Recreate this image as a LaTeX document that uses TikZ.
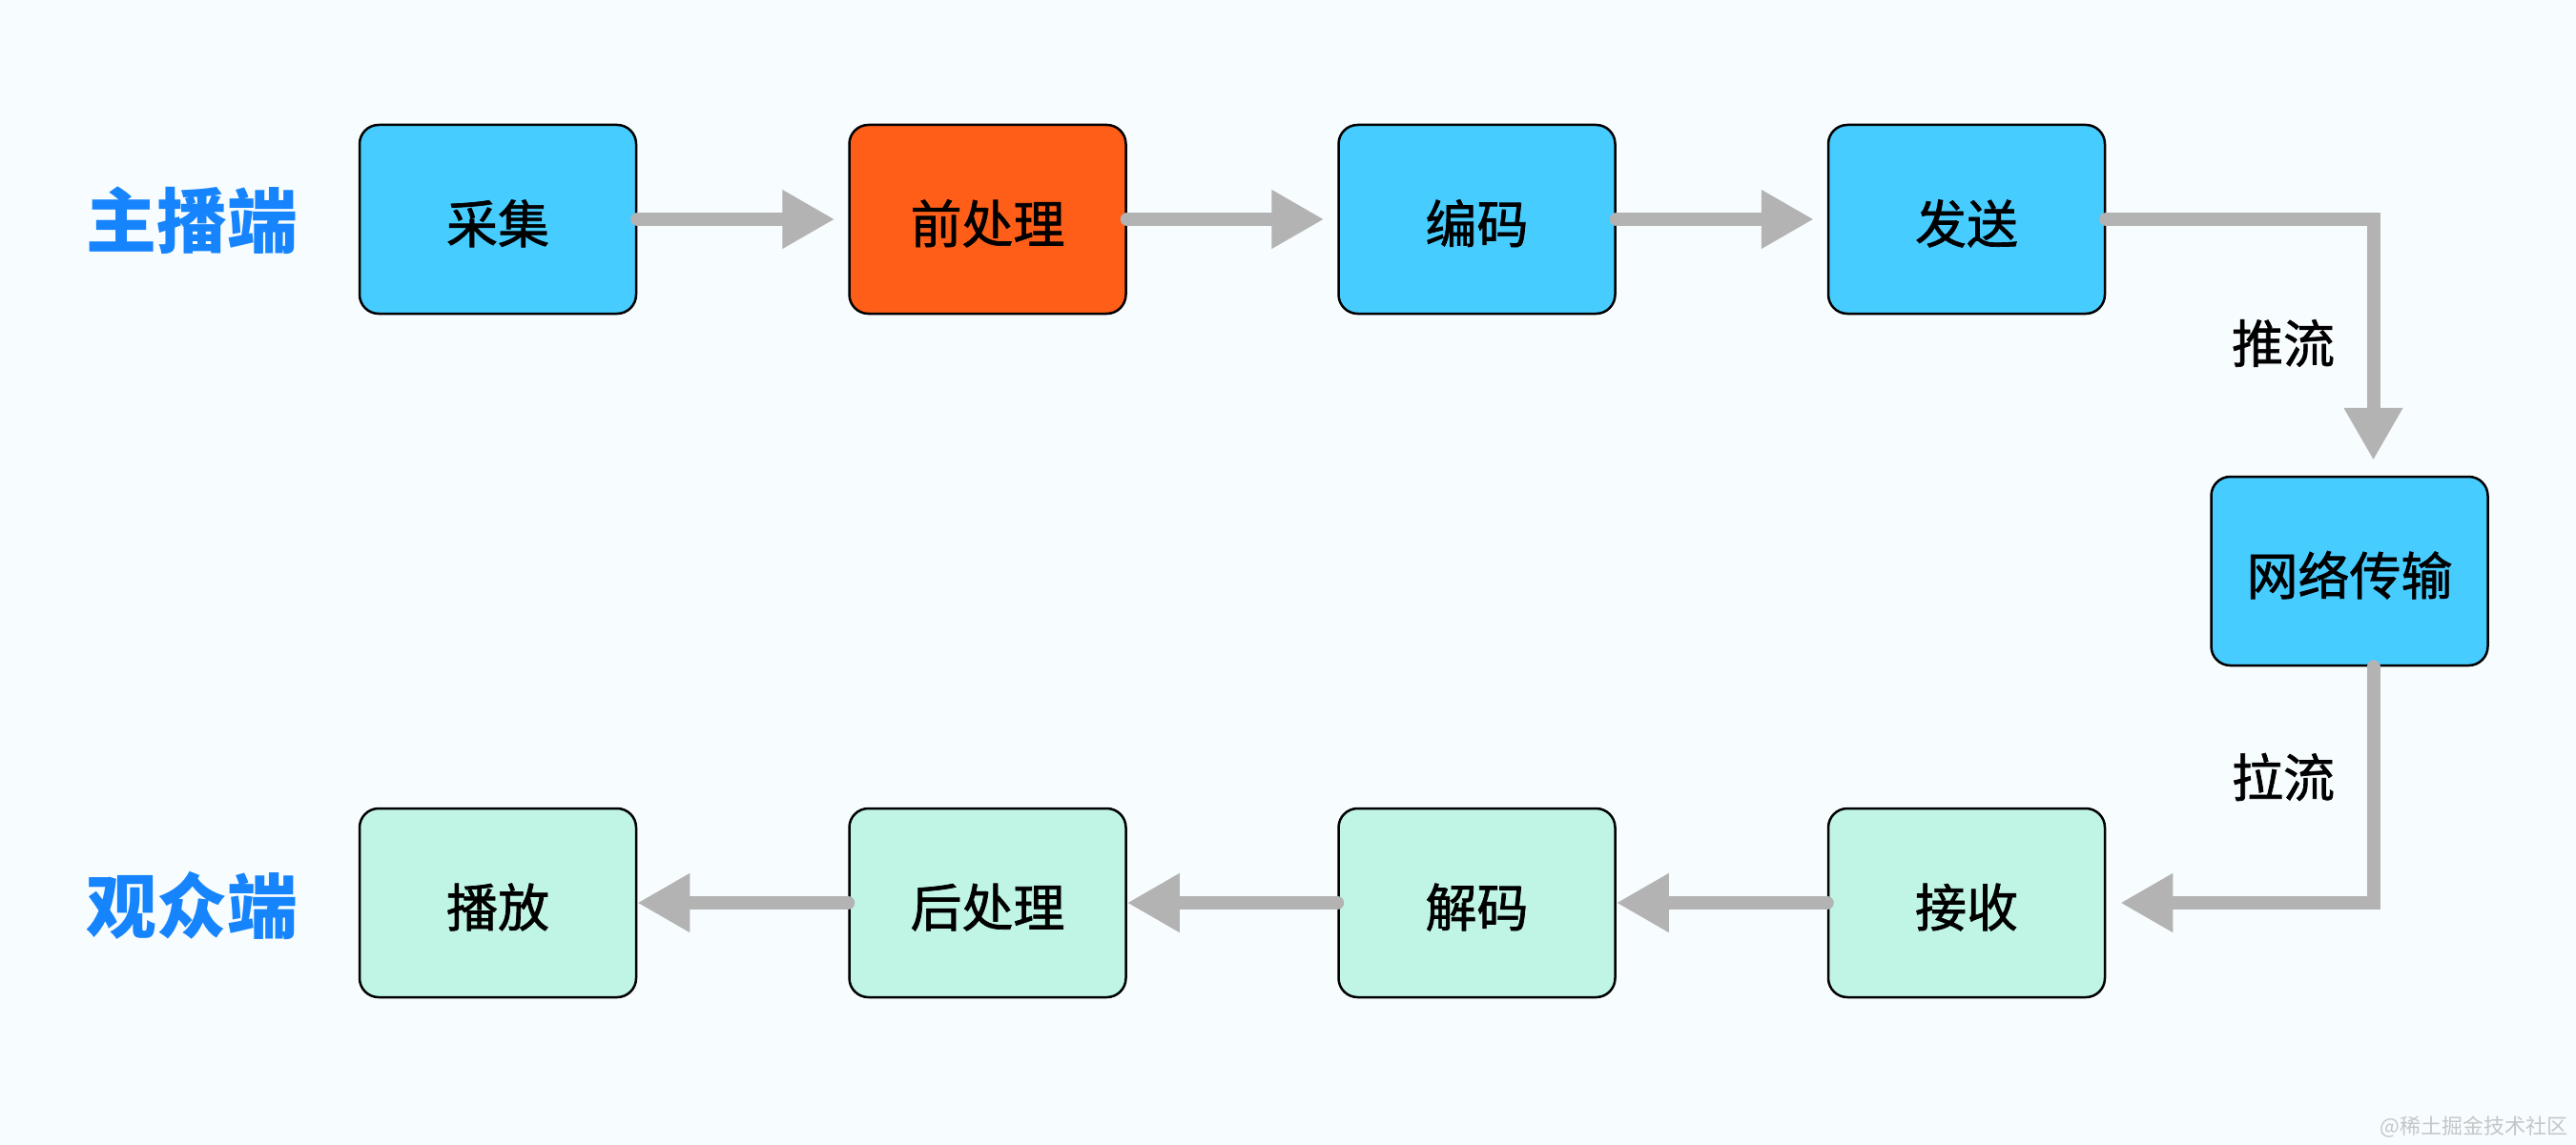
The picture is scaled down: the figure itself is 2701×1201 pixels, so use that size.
\documentclass[tikz,border=0pt]{standalone}
\usepackage{fontspec}
\setmainfont{Noto Sans CJK SC}
\newfontfamily\boxfont[FakeBold=1.3]{Noto Sans CJK SC}
\usetikzlibrary{arrows.meta}
\definecolor{bgc}{HTML}{F7FCFE}
\definecolor{cyanbox}{HTML}{47CCFF}
\definecolor{orangebox}{HTML}{FE5E18}
\definecolor{mintbox}{HTML}{C0F5E6}
\definecolor{labelblue}{HTML}{1684FC}
\definecolor{arrowgray}{HTML}{B3B3B3}
\definecolor{wmgray}{HTML}{C4C6C8}
\begin{document}
\begin{tikzpicture}[x=1pt,y=-1pt,
  box/.style={draw=black, line width=2.5pt, rounded corners=20pt,
    minimum width=290pt, minimum height=198pt, inner sep=0pt,
    text height=50pt, text depth=0pt,
    font=\boxfont\fontsize{54}{60}\selectfont},
  topbox/.style={box, fill=cyanbox},
  hotbox/.style={box, fill=orangebox},
  botbox/.style={box, fill=mintbox},
  flow/.style={draw=arrowgray, line width=14pt, line cap=round,
    -{Triangle[length=55pt,width=58pt]}},
  sidelabel/.style={text=labelblue, font=\bfseries\fontsize{74}{80}\selectfont},
  flowlabel/.style={text=black, font=\boxfont\fontsize{54}{60}\selectfont}]
\fill[bgc] (0,0) rectangle (2701,1201);
\useasboundingbox (0,0) rectangle (2701,1201);

\node[sidelabel] (zb) at (201,231) {主播端};
\node[sidelabel] (gz) at (201,950) {观众端};

\node[topbox] (cj) at (522,230) {采集};
\node[hotbox] (qcl) at (1035.5,230) {前处理};
\node[topbox] (bm) at (1548.5,230) {编码};
\node[topbox] (fs) at (2062,230) {发送};
\node[topbox] (wl) at (2463.5,599) {网络传输};

\node[botbox] (bf) at (522,947) {播放};
\node[botbox] (hcl) at (1035.5,947) {后处理};
\node[botbox] (jm) at (1548.5,947) {解码};
\node[botbox] (js) at (2062,947) {接收};

\node[flowlabel] (tl) at (2394,360) {推流};
\node[flowlabel] (ll) at (2394,815) {拉流};

\draw[flow, shorten >=14pt] (cj.east) -- (qcl.west);
\draw[flow, shorten >=14pt] (qcl.east) -- (bm.west);
\draw[flow, shorten >=14pt] (bm.east) -- (fs.west);
\draw[flow, shorten >=16pt] (fs.east) -| ([xshift=25pt]wl.north);
\draw[flow, shorten >=15pt] ([xshift=25pt]wl.south) |- (js.east);
\draw[flow] (js.west) -- (jm.east);
\draw[flow] (jm.west) -- (hcl.east);
\draw[flow] (hcl.west) -- (bf.east);

\node[text=wmgray, font=\fontsize{22}{24}\selectfont, anchor=east] (wm) at (2696,1182) {@稀土掘金技术社区};
\end{tikzpicture}
\end{document}
